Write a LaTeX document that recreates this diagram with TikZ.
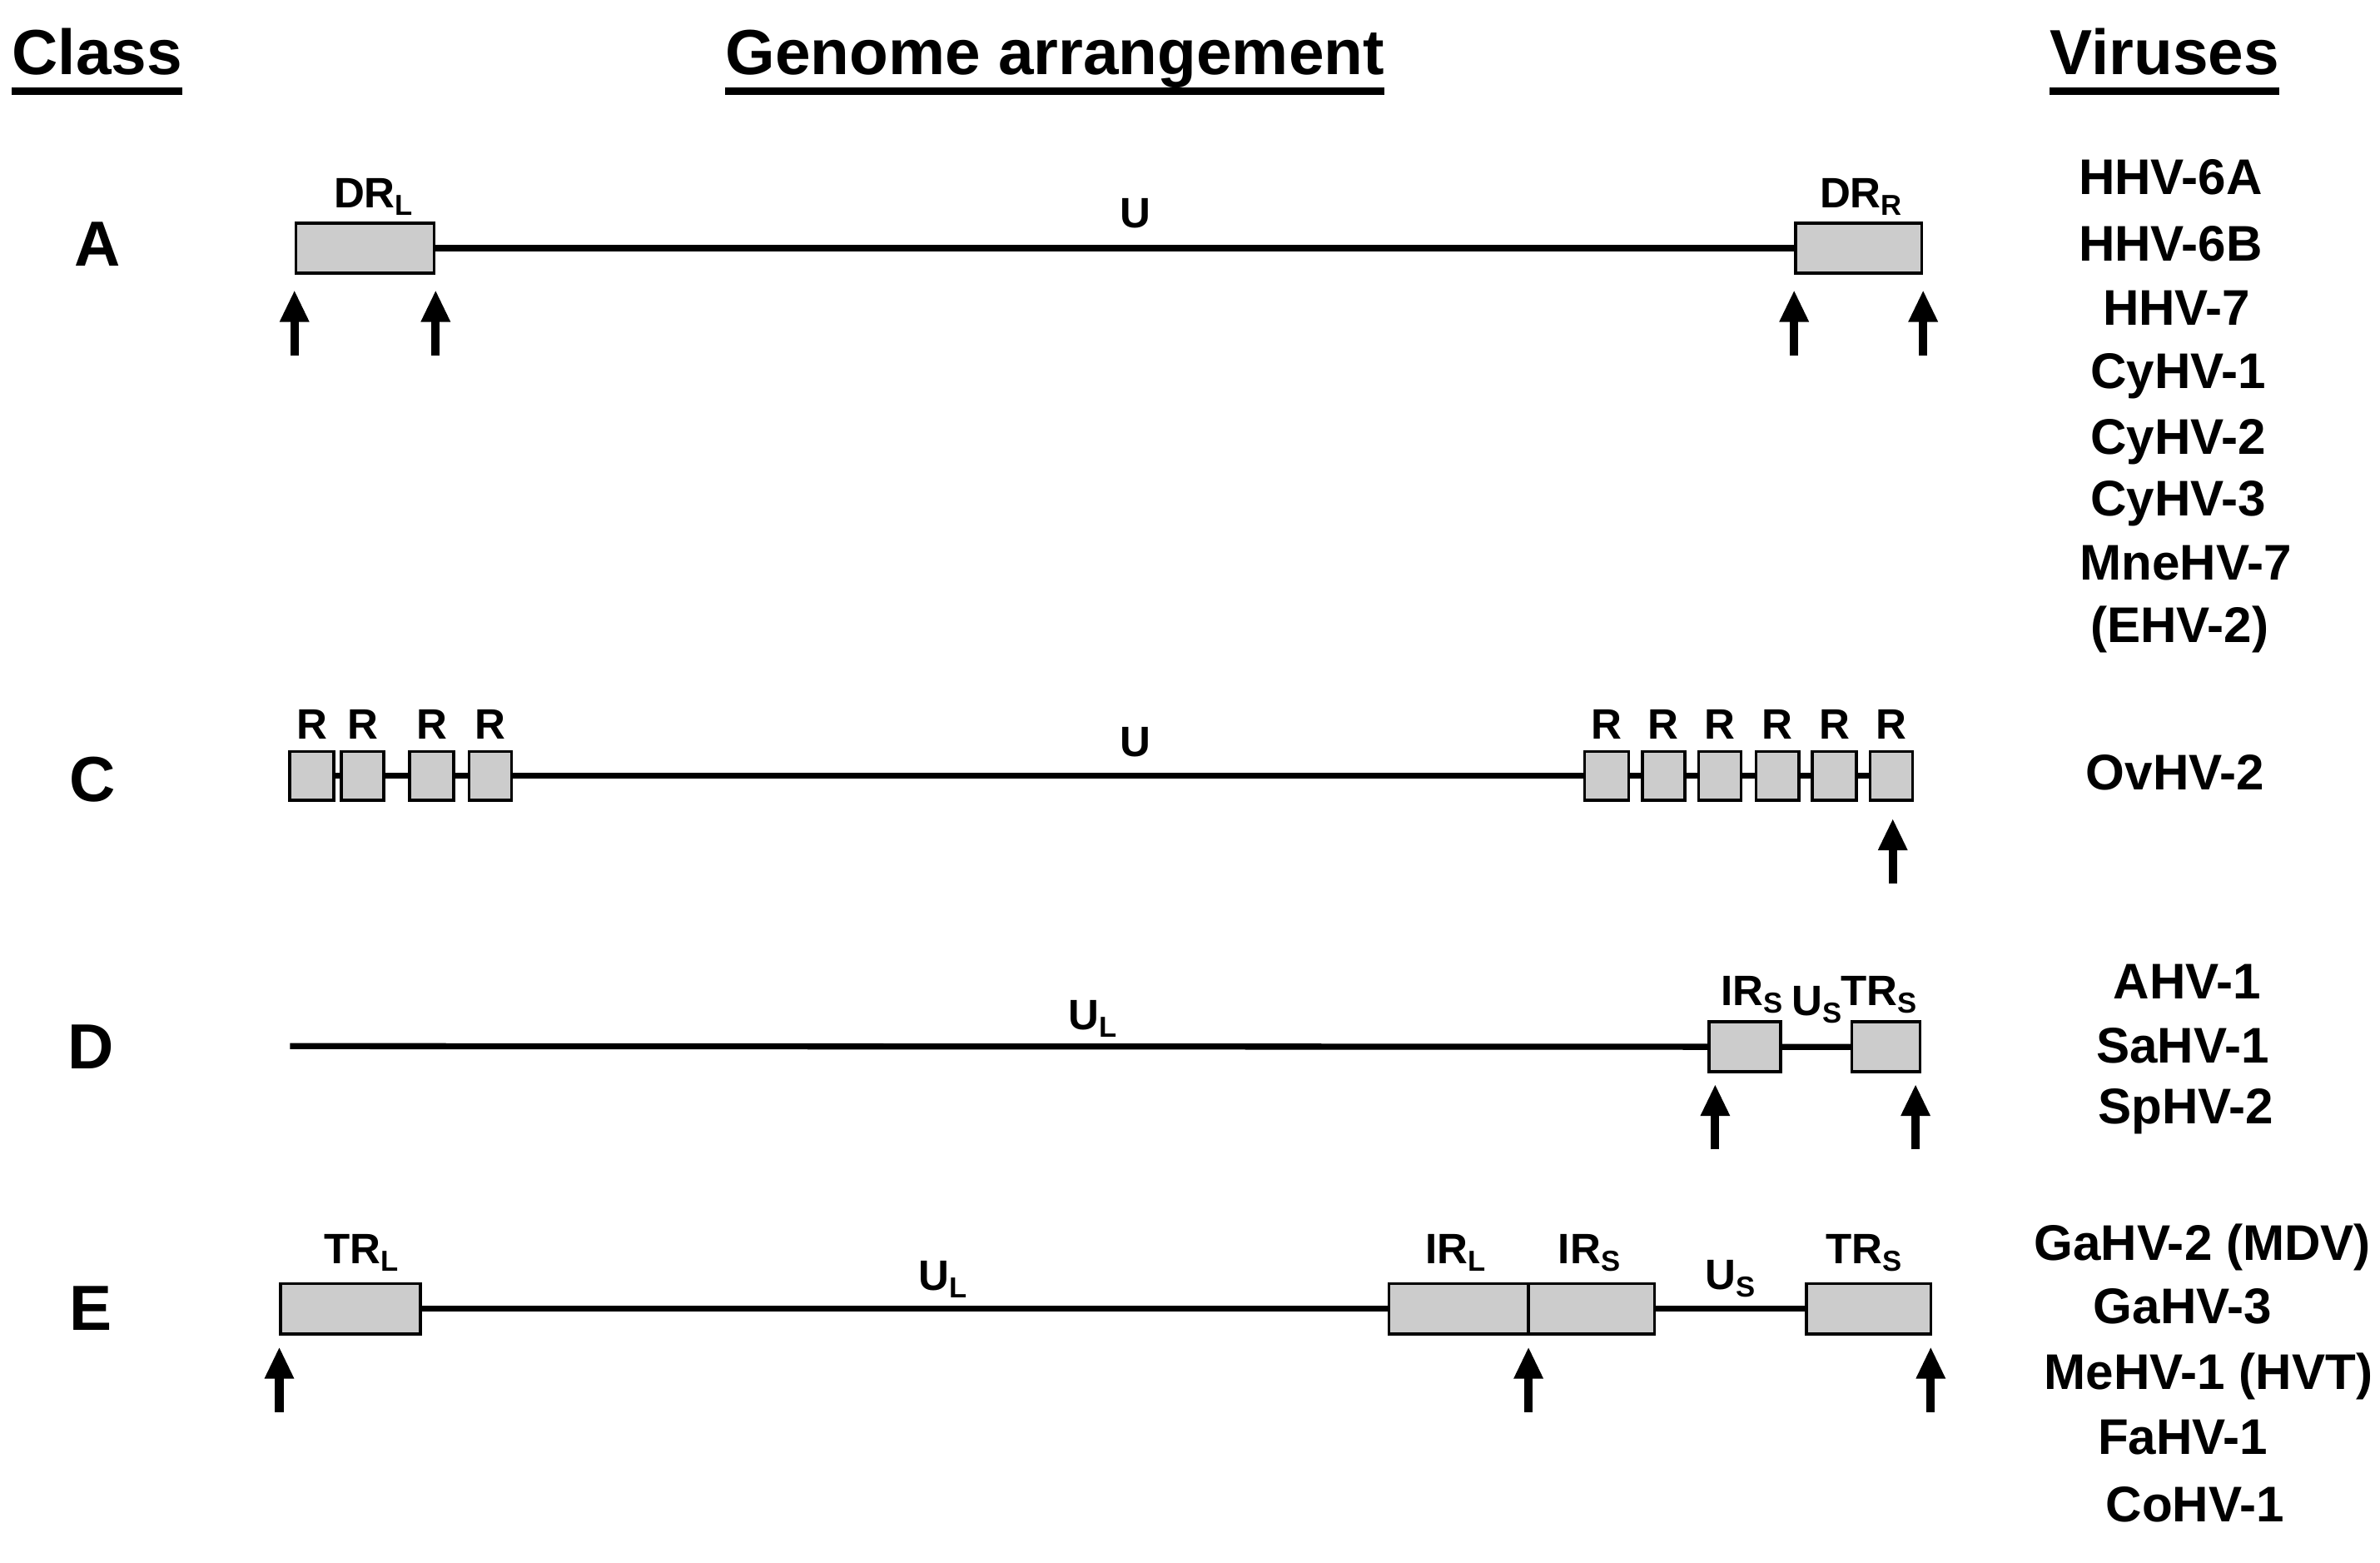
\documentclass[tikz,border=0pt]{standalone}
\usepackage{fontspec}
\setmainfont{Liberation Sans}
\usetikzlibrary{arrows.meta,backgrounds}
\definecolor{boxgray}{RGB}{204,204,204}
\newcommand\sbs[1]{\raisebox{-5pt}{\fontsize{19}{19}\selectfont #1}}
\begin{document}
\begin{tikzpicture}[x=1pt,y=-1pt,
  hdr/.style={font=\fontsize{42}{42}\selectfont\bfseries, inner sep=0pt, anchor=base},
  lbl/.style={font=\fontsize{28}{28}\selectfont\bfseries, inner sep=0pt, anchor=base},
  vir/.style={font=\fontsize{33}{33}\selectfont\bfseries, inner sep=0pt, anchor=base},
  gbox/.style={draw, line width=2pt, fill=boxgray, inner sep=0pt, minimum height=33pt},
  genome/.style={line width=4pt},
  ptr/.style={line width=5.5pt, -{Triangle[length=21pt,width=18pt]}},
  ulin/.style={line width=4.5pt}]
\useasboundingbox (0,0) rectangle (1568,1029);

% headers
\node[hdr] (hcl) at (64,49) {Class};
\node[hdr] (hga) at (695,49) {Genome arrangement};
\node[hdr] (hvi) at (1426,49) {Viruses};
\foreach \h in {hcl,hga,hvi}
  \draw[ulin] ([yshift=-11pt]\h.base west) -- ([yshift=-11pt]\h.base east);

% class letters
\node[hdr] (ca) at (64,175) {A};
\node[hdr] (cc) at (61,528) {C};
\node[hdr] (cd) at (60,704) {D};
\node[hdr] (ce) at (60,876) {E};

% ---------- Row A ----------
\node[gbox, minimum width=91pt] (drl) at (240.5,163.5) {};
\node[gbox, minimum width=83pt] (drr) at (1224.5,163.5) {};
\begin{scope}[on background layer]
  \draw[genome] (drl.center) -- (drr.center);
\end{scope}
\node[lbl] (tdrl) at (246,137) {DR\sbs{L}};
\node[lbl] (tdrr) at (1226,137) {DR\sbs{R}};
\node[lbl] (tua) at (748,150) {U};
\foreach \i/\x in {1/194,2/287,3/1182,4/1267}{
  \coordinate (aas\i) at (\x,234);
  \coordinate (aae\i) at (\x,191);
  \draw[ptr] (aas\i) -- (aae\i);
}

% ---------- Row C ----------
\foreach \i/\a/\b in {1/190/221,2/224/254,3/269/300,4/308/338,
                      5/1043/1074,6/1081/1111,7/1118/1148,8/1156/1186,9/1193/1224,10/1231/1261}{
  \node[gbox, minimum width=\b-\a-2, minimum height=32pt] (rc\i) at ({(\a+\b)/2},511) {};
  \node[lbl] (trc\i) at ({(\a+\b)/2},487) {R};
}
\begin{scope}[on background layer]
  \draw[genome] (rc1.center) -- (rc10.center);
\end{scope}
\node[lbl] (tuc) at (748,498) {U};
\coordinate (acs) at (1247,582);
\coordinate (ace) at (1247,539);
\draw[ptr] (acs) -- (ace);

% ---------- Row D ----------
\node[gbox, minimum width=47pt] (irsd) at (1149.5,689.5) {};
\node[gbox, minimum width=45pt] (trsd) at (1242.5,689.5) {};
\coordinate (dstart) at (191,689);
\begin{scope}[on background layer]
  \draw[genome] (dstart) -- (trsd.center);
\end{scope}
\node[lbl] (tuld) at (720,678) {U\sbs{L}};
\node[lbl] (tirsd) at (1154,662) {IR\sbs{S}};
\node[lbl] (tusd) at (1197,669) {U\sbs{S}};
\node[lbl] (ttrsd) at (1238,662) {TR\sbs{S}};
\foreach \i/\x in {1/1130,2/1262}{
  \coordinate (ads\i) at (\x,757);
  \coordinate (ade\i) at (\x,714);
  \draw[ptr] (ads\i) -- (ade\i);
}

% ---------- Row E ----------
\node[gbox, minimum width=92pt] (trle) at (231,862) {};
\node[gbox, minimum width=92pt] (irle) at (961,862) {};
\node[gbox, minimum width=83pt] (irse) at (1048.5,862) {};
\node[gbox, minimum width=82pt] (trse) at (1231,862) {};
\begin{scope}[on background layer]
  \draw[genome] (trle.center) -- (trse.center);
\end{scope}
\node[lbl] (ttrle) at (238,832) {TR\sbs{L}};
\node[lbl] (tule) at (621,850) {U\sbs{L}};
\node[lbl] (tirle) at (959,832) {IR\sbs{L}};
\node[lbl] (tirse) at (1047,832) {IR\sbs{S}};
\node[lbl] (tuse) at (1140,849) {U\sbs{S}};
\node[lbl] (ttrse) at (1228,832) {TR\sbs{S}};
\foreach \i/\x in {1/184,2/1007,3/1272}{
  \coordinate (aes\i) at (\x,930);
  \coordinate (aee\i) at (\x,887);
  \draw[ptr] (aes\i) -- (aee\i);
}

% ---------- Viruses ----------
\foreach \n/\x/\y/\t in {v1/1430/128/HHV-6A, v2/1430/172/HHV-6B, v3/1434/214/HHV-7,
   v4/1435/256/CyHV-1, v5/1435/299/CyHV-2, v6/1435/340/CyHV-3, v7/1440/382/MneHV-7,
   v8/1436/423/(EHV-2), v9/1433/520/OvHV-2, v10/1441/658/AHV-1, v11/1438/700/SaHV-1,
   v12/1440/740/SpHV-2, v13/1451/830/GaHV-2 (MDV), v14/1438/872/GaHV-3,
   v15/1455/915/MeHV-1 (HVT), v16/1438/958/FaHV-1, v17/1446/1002/CoHV-1}
  \node[vir] (\n) at (\x,\y) {\t};
\end{tikzpicture}
\end{document}
